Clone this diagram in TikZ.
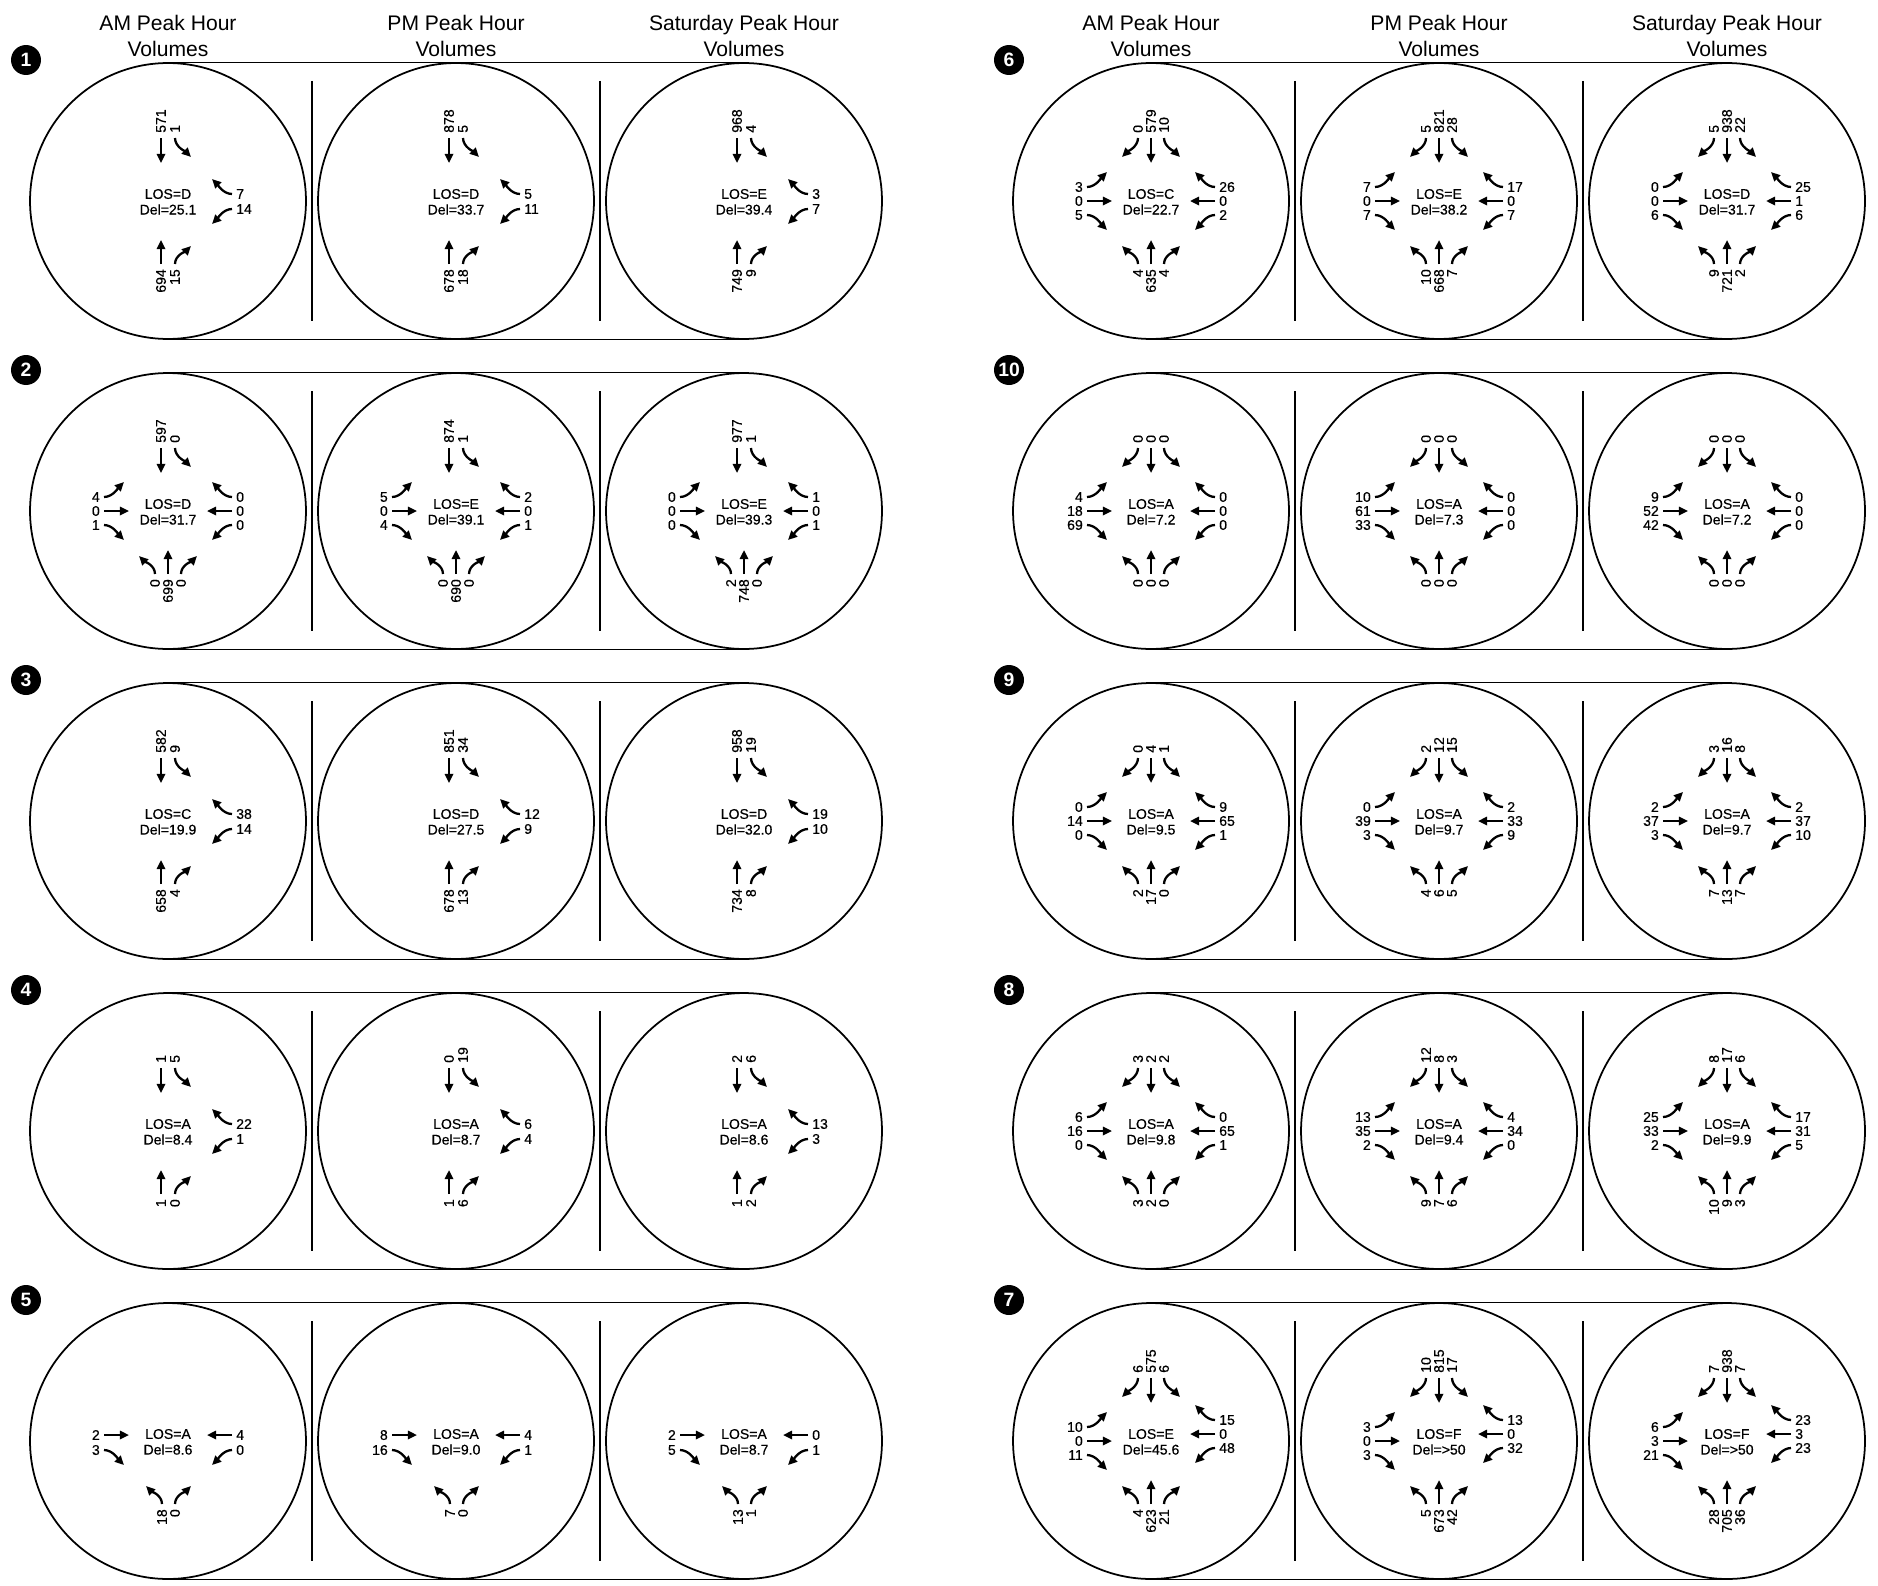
\documentclass[tikz,border=0pt]{standalone}
\usepackage{fontspec}
\setmainfont{Liberation Sans}
\newfontfamily\inkfont[FakeBold=0.5]{Liberation Sans}
\usetikzlibrary{arrows.meta}

% turning movements in the local frame of one intersection (px, y down)
% #1 = lateral slot of the movement, #2 = volume
\newcommand\sbl[2]{\begin{scope}[shift={(#1,0)}]
  \node[vnum, anchor=west] (sbl) at (0,-67) {#2};
  \draw[mv] (0,-63) .. controls (0,-54) and (-11,-49) .. (-16,-44);
\end{scope}}
\newcommand\sbt[2]{\begin{scope}[shift={(#1,0)}]
  \node[vnum, anchor=west] (sbt) at (0,-67) {#2};
  \draw[mv] (0,-63) -- (0,-38);
\end{scope}}
\newcommand\sbr[2]{\begin{scope}[shift={(#1,0)}]
  \node[vnum, anchor=west] (sbr) at (0,-67) {#2};
  \draw[mv] (0,-63) .. controls (0,-54) and (11,-49) .. (16,-44);
\end{scope}}
\newcommand\nbl[2]{\begin{scope}[shift={(#1,0)}]
  \node[vnum, anchor=east] (nbl) at (0,67) {#2};
  \draw[mv] (0,63) .. controls (0,54) and (-11,50) .. (-16,45);
\end{scope}}
\newcommand\nbt[2]{\begin{scope}[shift={(#1,0)}]
  \node[vnum, anchor=east] (nbt) at (0,67) {#2};
  \draw[mv] (0,63) -- (0,39);
\end{scope}}
\newcommand\nbr[2]{\begin{scope}[shift={(#1,0)}]
  \node[vnum, anchor=east] (nbr) at (0,67) {#2};
  \draw[mv] (0,63) .. controls (0,54) and (11,50) .. (16,45);
\end{scope}}
\newcommand\ebu[2]{\begin{scope}[shift={(0,#1)}]
  \node[hnum, anchor=east] (ebu) at (-67,0) {#2};
  \draw[mv] (-64,0) .. controls (-55,0) and (-49,-10) .. (-44,-15);
\end{scope}}
\newcommand\ebt[2]{\begin{scope}[shift={(0,#1)}]
  \node[hnum, anchor=east] (ebt) at (-67,0) {#2};
  \draw[mv] (-64,0) -- (-39,0);
\end{scope}}
\newcommand\ebd[2]{\begin{scope}[shift={(0,#1)}]
  \node[hnum, anchor=east] (ebd) at (-67,0) {#2};
  \draw[mv] (-64,0) .. controls (-55,0) and (-49,10) .. (-44,15);
\end{scope}}
\newcommand\wbu[2]{\begin{scope}[shift={(0,#1)}]
  \node[hnum, anchor=west] (wbu) at (67,0) {#2};
  \draw[mv] (64,0) .. controls (55,0) and (49,-10) .. (44,-15);
\end{scope}}
\newcommand\wbt[2]{\begin{scope}[shift={(0,#1)}]
  \node[hnum, anchor=west] (wbt) at (67,0) {#2};
  \draw[mv] (64,0) -- (39,0);
\end{scope}}
\newcommand\wbd[2]{\begin{scope}[shift={(0,#1)}]
  \node[hnum, anchor=west] (wbd) at (67,0) {#2};
  \draw[mv] (64,0) .. controls (55,0) and (49,10) .. (44,15);
\end{scope}}

% one approach: list of slot/kind/volume
\newcommand\sbmv[1]{\foreach \mvpos/\mvkind/\mvvol in {#1}{\csname sb\mvkind\endcsname{\mvpos}{\mvvol}}}
\newcommand\nbmv[1]{\foreach \mvpos/\mvkind/\mvvol in {#1}{\csname nb\mvkind\endcsname{\mvpos}{\mvvol}}}
\newcommand\ebmv[1]{\foreach \mvpos/\mvkind/\mvvol in {#1}{\csname eb\mvkind\endcsname{\mvpos}{\mvvol}}}
\newcommand\wbmv[1]{\foreach \mvpos/\mvkind/\mvvol in {#1}{\csname wb\mvkind\endcsname{\mvpos}{\mvvol}}}
\newcommand\sbthree[3]{\sbmv{-13/l/#1,0/t/#2,13/r/#3}}
\newcommand\nbthree[3]{\nbmv{-13/l/#1,0/t/#2,13/r/#3}}
\newcommand\ebthree[3]{\ebmv{-14/u/#1,0/t/#2,14/d/#3}}
\newcommand\wbthree[3]{\wbmv{-14/u/#1,0/t/#2,14/d/#3}}
\newcommand\los[2]{\node[los] (los) at (0,-7) {LOS=#1};
  \node[los] (del) at (0,8.5) {Del=#2};}

\begin{document}
\begin{tikzpicture}[
  x=0.02cm, y=-0.02cm,
  font=\inkfont\fontsize{8}{9.5}\selectfont,
  ring/.style  = {circle, draw, line width=1pt, minimum size=5.52cm, inner sep=0pt},
  rail/.style  = {line width=0.7pt},
  sep/.style   = {line width=0.65pt},
  badge/.style = {circle, fill=black, text=white, minimum size=0.6cm,
                  inner sep=0pt, font=\fontsize{11}{11}\selectfont\bfseries},
  head/.style  = {align=center, font=\normalfont\fontsize{12}{14.8}\selectfont},
  los/.style   = {inner sep=0pt},
  vnum/.style  = {rotate=90, inner sep=0.5pt},
  hnum/.style  = {inner sep=0.5pt},
  mv/.style    = {-{Triangle[length=5.2pt,width=4.7pt]}, line width=1.3pt},
]
\useasboundingbox (0,0) rectangle (1878,1585);

%% ==== column headings =====================================================
\foreach \hx/\hs in {168/l,1151/r}{
  \node[head] (\hs-am)  at (\hx,36)     {AM Peak Hour\\Volumes};
  \node[head] (\hs-pm)  at (\hx+288,36) {PM Peak Hour\\Volumes};
  \node[head] (\hs-sat) at (\hx+576,36) {Saturday Peak Hour\\Volumes};
}

%% ==== panel frames: badge, three rings, rails, separators =================
\foreach \pn/\px/\py/\pb in {p1/168/201/1,p2/168/511/2,p3/168/821/3,
    p4/168/1131/4,p5/168/1441/5,p6/1151/201/6,p10/1151/511/10,
    p9/1151/821/9,p8/1151/1131/8,p7/1151/1441/7}{
  \node[badge] (\pn-no) at (\px-142,\py-141) {\pb};
  \node[ring] (\pn-am)  at (\px,\py) {};
  \node[ring] (\pn-pm)  at (\px+288,\py) {};
  \node[ring] (\pn-sat) at (\px+576,\py) {};
  \draw[rail] (\pn-am.north) -- (\pn-sat.north);
  \draw[rail] (\pn-am.south) -- (\pn-sat.south);
  \draw[sep] (\px+144,\py-120) -- (\px+144,\py+120);
  \draw[sep] (\px+432,\py-120) -- (\px+432,\py+120);
}

%% ==== 1 ===================================================================
\begin{scope}[shift={(p1-am)}, name prefix=p1am-]
  \los{D}{25.1}
  \sbmv{-7/t/571,7/r/1} \wbmv{-7/u/7,8/d/14} \nbmv{-7/t/694,7/r/15}
\end{scope}
\begin{scope}[shift={(p1-pm)}, name prefix=p1pm-]
  \los{D}{33.7}
  \sbmv{-7/t/878,7/r/5} \wbmv{-7/u/5,8/d/11} \nbmv{-7/t/678,7/r/18}
\end{scope}
\begin{scope}[shift={(p1-sat)}, name prefix=p1sat-]
  \los{E}{39.4}
  \sbmv{-7/t/968,7/r/4} \wbmv{-7/u/3,8/d/7} \nbmv{-7/t/749,7/r/9}
\end{scope}

%% ==== 2 ===================================================================
\begin{scope}[shift={(p2-am)}, name prefix=p2am-]
  \los{D}{31.7}
  \sbmv{-7/t/597,7/r/0} \ebthree{4}{0}{1} \wbthree{0}{0}{0} \nbthree{0}{699}{0}
\end{scope}
\begin{scope}[shift={(p2-pm)}, name prefix=p2pm-]
  \los{E}{39.1}
  \sbmv{-7/t/874,7/r/1} \ebthree{5}{0}{4} \wbthree{2}{0}{1} \nbthree{0}{690}{0}
\end{scope}
\begin{scope}[shift={(p2-sat)}, name prefix=p2sat-]
  \los{E}{39.3}
  \sbmv{-7/t/977,7/r/1} \ebthree{0}{0}{0} \wbthree{1}{0}{1} \nbthree{2}{748}{0}
\end{scope}

%% ==== 3 ===================================================================
\begin{scope}[shift={(p3-am)}, name prefix=p3am-]
  \los{C}{19.9}
  \sbmv{-7/t/582,7/r/9} \wbmv{-7/u/38,8/d/14} \nbmv{-7/t/658,7/r/4}
\end{scope}
\begin{scope}[shift={(p3-pm)}, name prefix=p3pm-]
  \los{D}{27.5}
  \sbmv{-7/t/851,7/r/34} \wbmv{-7/u/12,8/d/9} \nbmv{-7/t/678,7/r/13}
\end{scope}
\begin{scope}[shift={(p3-sat)}, name prefix=p3sat-]
  \los{D}{32.0}
  \sbmv{-7/t/958,7/r/19} \wbmv{-7/u/19,8/d/10} \nbmv{-7/t/734,7/r/8}
\end{scope}

%% ==== 4 ===================================================================
\begin{scope}[shift={(p4-am)}, name prefix=p4am-]
  \los{A}{8.4}
  \sbmv{-7/t/1,7/r/5} \wbmv{-7/u/22,8/d/1} \nbmv{-7/t/1,7/r/0}
\end{scope}
\begin{scope}[shift={(p4-pm)}, name prefix=p4pm-]
  \los{A}{8.7}
  \sbmv{-7/t/0,7/r/19} \wbmv{-7/u/6,8/d/4} \nbmv{-7/t/1,7/r/6}
\end{scope}
\begin{scope}[shift={(p4-sat)}, name prefix=p4sat-]
  \los{A}{8.6}
  \sbmv{-7/t/2,7/r/6} \wbmv{-7/u/13,8/d/3} \nbmv{-7/t/1,7/r/2}
\end{scope}

%% ==== 5 ===================================================================
\begin{scope}[shift={(p5-am)}, name prefix=p5am-]
  \los{A}{8.6}
  \ebmv{-6/t/2,9/d/3} \wbmv{-6/t/4,9/d/0} \nbmv{-6/l/18,7/r/0}
\end{scope}
\begin{scope}[shift={(p5-pm)}, name prefix=p5pm-]
  \los{A}{9.0}
  \ebmv{-6/t/8,9/d/16} \wbmv{-6/t/4,9/d/1} \nbmv{-6/l/7,7/r/0}
\end{scope}
\begin{scope}[shift={(p5-sat)}, name prefix=p5sat-]
  \los{A}{8.7}
  \ebmv{-6/t/2,9/d/5} \wbmv{-6/t/0,9/d/1} \nbmv{-6/l/13,7/r/1}
\end{scope}

%% ==== 6 ===================================================================
\begin{scope}[shift={(p6-am)}, name prefix=p6am-]
  \los{C}{22.7}
  \sbthree{0}{579}{10} \ebthree{3}{0}{5} \wbthree{26}{0}{2} \nbthree{4}{635}{4}
\end{scope}
\begin{scope}[shift={(p6-pm)}, name prefix=p6pm-]
  \los{E}{38.2}
  \sbthree{5}{821}{28} \ebthree{7}{0}{7} \wbthree{17}{0}{7} \nbthree{10}{668}{7}
\end{scope}
\begin{scope}[shift={(p6-sat)}, name prefix=p6sat-]
  \los{D}{31.7}
  \sbthree{5}{938}{22} \ebthree{0}{0}{6} \wbthree{25}{1}{6} \nbthree{9}{721}{2}
\end{scope}

%% ==== 10 ==================================================================
\begin{scope}[shift={(p10-am)}, name prefix=p10am-]
  \los{A}{7.2}
  \sbthree{0}{0}{0} \ebthree{4}{18}{69} \wbthree{0}{0}{0} \nbthree{0}{0}{0}
\end{scope}
\begin{scope}[shift={(p10-pm)}, name prefix=p10pm-]
  \los{A}{7.3}
  \sbthree{0}{0}{0} \ebthree{10}{61}{33} \wbthree{0}{0}{0} \nbthree{0}{0}{0}
\end{scope}
\begin{scope}[shift={(p10-sat)}, name prefix=p10sat-]
  \los{A}{7.2}
  \sbthree{0}{0}{0} \ebthree{9}{52}{42} \wbthree{0}{0}{0} \nbthree{0}{0}{0}
\end{scope}

%% ==== 9 ===================================================================
\begin{scope}[shift={(p9-am)}, name prefix=p9am-]
  \los{A}{9.5}
  \sbthree{0}{4}{1} \ebthree{0}{14}{0} \wbthree{9}{65}{1} \nbthree{2}{17}{0}
\end{scope}
\begin{scope}[shift={(p9-pm)}, name prefix=p9pm-]
  \los{A}{9.7}
  \sbthree{2}{12}{15} \ebthree{0}{39}{3} \wbthree{2}{33}{9} \nbthree{4}{6}{5}
\end{scope}
\begin{scope}[shift={(p9-sat)}, name prefix=p9sat-]
  \los{A}{9.7}
  \sbthree{3}{16}{8} \ebthree{2}{37}{3} \wbthree{2}{37}{10} \nbthree{7}{13}{7}
\end{scope}

%% ==== 8 ===================================================================
\begin{scope}[shift={(p8-am)}, name prefix=p8am-]
  \los{A}{9.8}
  \sbthree{3}{2}{2} \ebthree{6}{16}{0} \wbthree{0}{65}{1} \nbthree{3}{2}{0}
\end{scope}
\begin{scope}[shift={(p8-pm)}, name prefix=p8pm-]
  \los{A}{9.4}
  \sbthree{12}{8}{3} \ebthree{13}{35}{2} \wbthree{4}{34}{0} \nbthree{9}{7}{6}
\end{scope}
\begin{scope}[shift={(p8-sat)}, name prefix=p8sat-]
  \los{A}{9.9}
  \sbthree{8}{17}{6} \ebthree{25}{33}{2} \wbthree{17}{31}{5} \nbthree{10}{9}{3}
\end{scope}

%% ==== 7 ===================================================================
\begin{scope}[shift={(p7-am)}, name prefix=p7am-]
  \los{E}{45.6}
  \sbthree{6}{575}{6} \ebthree{10}{0}{11} \wbmv{-21/u/15,-7/t/0,7/d/48}
  \nbthree{4}{623}{21}
\end{scope}
\begin{scope}[shift={(p7-pm)}, name prefix=p7pm-]
  \los{F}{>50}
  \sbthree{10}{815}{17} \ebthree{3}{0}{3} \wbmv{-21/u/13,-7/t/0,7/d/32}
  \nbthree{5}{673}{42}
\end{scope}
\begin{scope}[shift={(p7-sat)}, name prefix=p7sat-]
  \los{F}{>50}
  \sbthree{7}{938}{7} \ebthree{6}{3}{21} \wbmv{-21/u/23,-7/t/3,7/d/23}
  \nbthree{28}{705}{36}
\end{scope}

\end{tikzpicture}
\end{document}
